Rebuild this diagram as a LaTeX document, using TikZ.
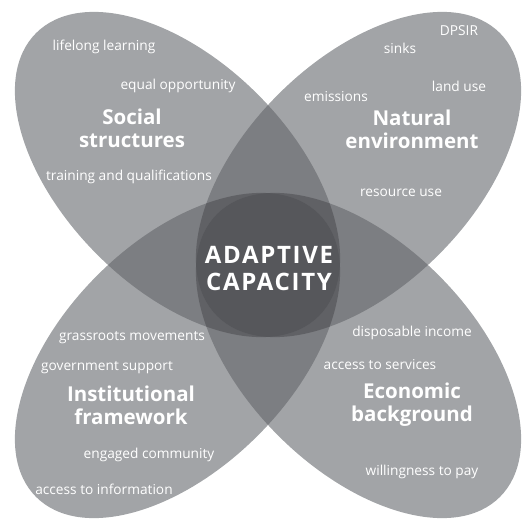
\documentclass[tikz,border=0pt]{standalone}
\usepackage{fontspec}
\setmainfont{Open Sans}
\usetikzlibrary{positioning}
\definecolor{petalgray}{RGB}{162,164,167}
\definecolor{overlapgray}{RGB}{124,126,130}
\definecolor{coregray}{RGB}{96,97,101}
\definecolor{centergray}{RGB}{86,87,91}

\newcommand{\petalclip}[2]{\clip[rotate around={#2:(#1)}] (#1) ellipse (200pt and 113.4pt);}
\newcommand{\petalfill}[3]{\fill[#3, rotate around={#2:(#1)}] (#1) ellipse (200pt and 113.4pt);}

\begin{document}
\begin{tikzpicture}[
  x=1pt, y=1pt,
  item/.style = {text=white, font=\fontsize{13.7}{15}\selectfont, inner sep=0pt},
  heading/.style = {text=white, font=\fontsize{20.5}{23}\selectfont\bfseries,
                    align=center, inner sep=0pt},
  core/.style = {text=white, font=\fontsize{24}{27}\selectfont\bfseries\addfontfeature{LetterSpace=7},
                 align=center, inner sep=0pt}
]
\useasboundingbox (0,0) rectangle (524,-524);

\coordinate (nw) at (177.5,-174.5);
\coordinate (ne) at (358.5,-174.5);
\coordinate (sw) at (177.5,-355.5);
\coordinate (se) at (358.5,-355.5);

% petals
\petalfill{nw}{-45}{petalgray}
\petalfill{ne}{45}{petalgray}
\petalfill{sw}{45}{petalgray}
\petalfill{se}{-45}{petalgray}

% two petals overlap
\begin{scope}\petalclip{nw}{-45}\petalfill{ne}{45}{overlapgray}\end{scope}
\begin{scope}\petalclip{nw}{-45}\petalfill{sw}{45}{overlapgray}\end{scope}
\begin{scope}\petalclip{nw}{-45}\petalfill{se}{-45}{overlapgray}\end{scope}
\begin{scope}\petalclip{ne}{45}\petalfill{sw}{45}{overlapgray}\end{scope}
\begin{scope}\petalclip{ne}{45}\petalfill{se}{-45}{overlapgray}\end{scope}
\begin{scope}\petalclip{sw}{45}\petalfill{se}{-45}{overlapgray}\end{scope}

% three petals overlap
\begin{scope}\petalclip{nw}{-45}\petalclip{ne}{45}\petalfill{sw}{45}{coregray}\end{scope}
\begin{scope}\petalclip{nw}{-45}\petalclip{ne}{45}\petalfill{se}{-45}{coregray}\end{scope}
\begin{scope}\petalclip{nw}{-45}\petalclip{sw}{45}\petalfill{se}{-45}{coregray}\end{scope}
\begin{scope}\petalclip{ne}{45}\petalclip{sw}{45}\petalfill{se}{-45}{coregray}\end{scope}

% all four
\begin{scope}\petalclip{nw}{-45}\petalclip{ne}{45}\petalclip{sw}{45}\petalfill{se}{-45}{centergray}\end{scope}

\node[core] (adaptive) at (269,-269) {ADAPTIVE\\CAPACITY};

\node[heading] (social) at (132,-128) {Social\\structures};
\node[item] (lifelong) at (104,-47) {lifelong learning};
\node[item] (equal) at (178,-86) {equal opportunity};
\node[item] (training) at (129,-177) {training and qualifications};

\node[heading] (natural) at (412,-129) {Natural\\environment};
\node[item] (dpsir) at (459,-31) {DPSIR};
\node[item] (sinks) at (400,-48) {sinks};
\node[item] (landuse) at (459,-86) {land use};
\node[item] (emissions) at (336,-97) {emissions};
\node[item] (resource) at (401,-193) {resource use};

\node[heading] (institutional) at (131,-405) {Institutional\\framework};
\node[item] (grassroots) at (132,-338) {grassroots movements};
\node[item] (government) at (107,-368) {government support};
\node[item] (engaged) at (149,-455) {engaged community};
\node[item] (information) at (104,-489) {access to information};

\node[heading] (economic) at (412,-405) {Economic\\background};
\node[item] (disposable) at (412,-333) {disposable income};
\node[item] (services) at (380,-365) {access to services};
\node[item] (willingness) at (422,-472) {willingness to pay};

\end{tikzpicture}
\end{document}
